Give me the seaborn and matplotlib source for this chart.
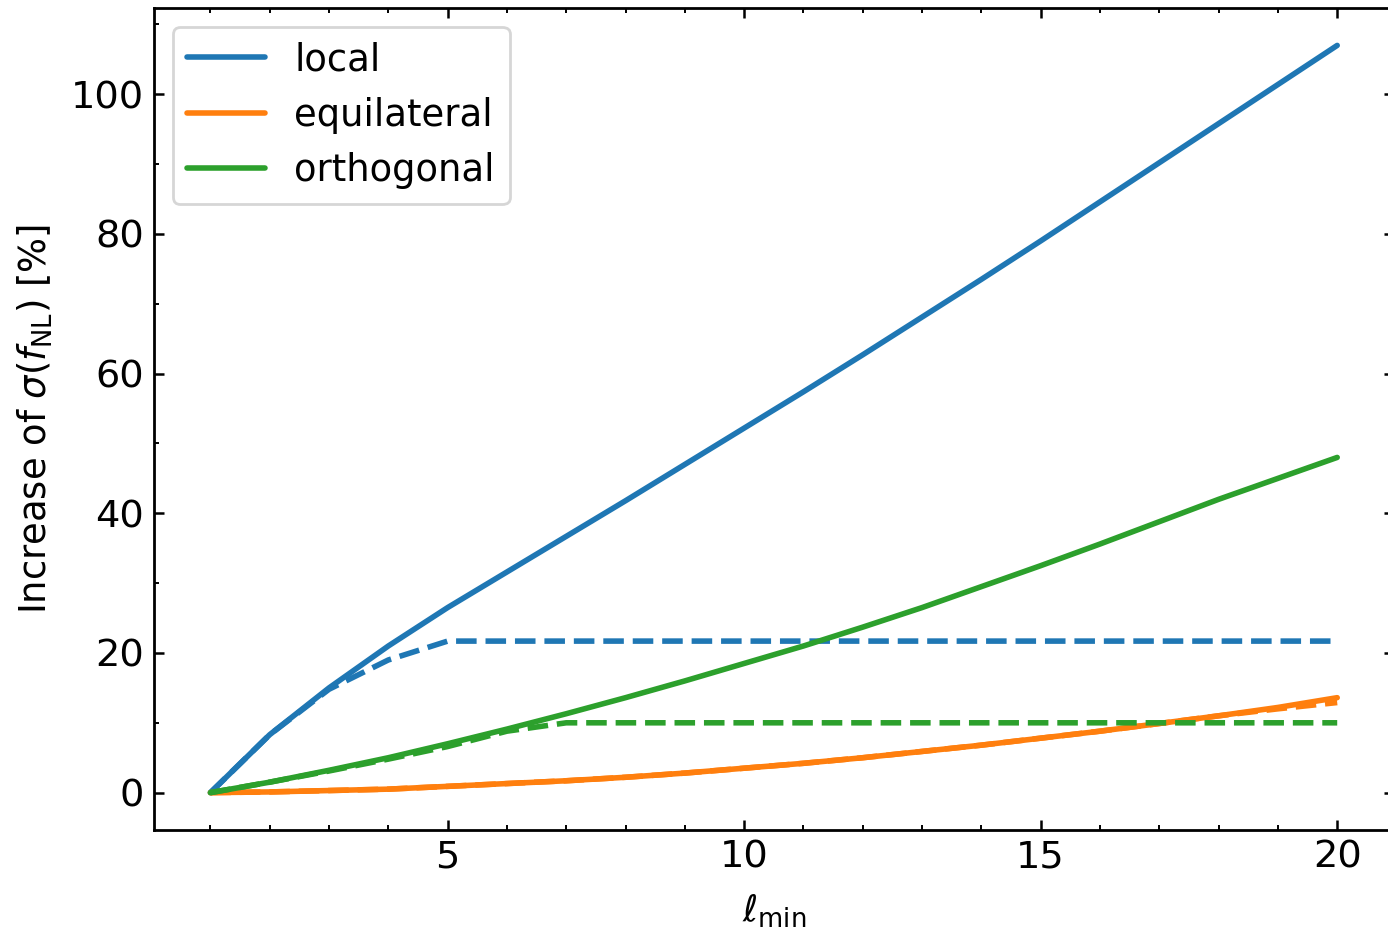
import numpy as np
import pandas as pd
import matplotlib
matplotlib.use("Agg")
import matplotlib.pyplot as plt
import seaborn as sns
from matplotlib.ticker import MultipleLocator

# valores
ell_min = list(range(1, 21))

local_full = [0, 8.3, 15.0, 21.0, 26.5, 31.6, 36.7, 41.8, 47.0, 52.2,
              57.4, 62.7, 68.1, 73.5, 79.0, 84.6, 90.2, 95.8, 101.4, 107.0]
local_dash = [0, 8.3, 14.8, 19.0, 21.7, 21.7, 21.7, 21.7, 21.7, 21.7,
              21.7, 21.7, 21.7, 21.7, 21.7, 21.7, 21.7, 21.7, 21.7, 21.7]

equil_full = [0, 0.1, 0.3, 0.5, 0.9, 1.3, 1.7, 2.2, 2.8, 3.5,
              4.2, 5.0, 5.9, 6.8, 7.8, 8.8, 9.9, 11.0, 12.2, 13.6]
equil_dash = [0, 0.1, 0.3, 0.5, 0.9, 1.3, 1.7, 2.2, 2.8, 3.5,
              4.2, 5.0, 5.9, 6.8, 7.8, 8.8, 9.9, 11.0, 12.0, 12.9]

ortho_full = [0, 1.5, 3.2, 5.0, 7.0, 9.1, 11.3, 13.6, 16.0, 18.5,
              21.0, 23.7, 26.5, 29.5, 32.5, 35.6, 38.8, 42.0, 45.0, 48.0]
ortho_dash = [0, 1.5, 3.1, 4.8, 6.6, 8.8, 10.0, 10.0, 10.0, 10.0,
              10.0, 10.0, 10.0, 10.0, 10.0, 10.0, 10.0, 10.0, 10.0, 10.0]

series = [
    ("local", local_full, local_dash),
    ("equilateral", equil_full, equil_dash),
    ("orthogonal", ortho_full, ortho_dash),
]

sns.set_style("ticks")
plt.rcParams["font.family"] = ["DejaVu Sans"]
plt.rcParams["font.size"] = 13.3
plt.rcParams["mathtext.fontset"] = "dejavusans"
for key in ["text.color", "axes.labelcolor", "xtick.color", "ytick.color"]:
    plt.rcParams[key] = "black"

fig, ax = plt.subplots(figsize=(6.94, 4.675), dpi=200)
fig.subplots_adjust(left=0.111, right=1.004, bottom=0.1123, top=0.9914)

colors = sns.color_palette("tab10", 3)

for (name, full, dash), c in zip(series, colors):
    df = pd.DataFrame({"ell": ell_min, "full": full, "dash": dash})
    sns.lineplot(data=df, x="ell", y="full", ax=ax, color=c, lw=2.0, label=name)
    sns.lineplot(data=df, x="ell", y="dash", ax=ax, color=c, lw=2.0,
                 linestyle="--", label="_nolegend_")

ax.set_xlim(0.05, 20.95)
ax.set_ylim(-5.35, 112.35)
ax.xaxis.set_major_locator(MultipleLocator(5))
ax.xaxis.set_minor_locator(MultipleLocator(1))
ax.yaxis.set_major_locator(MultipleLocator(20))
ax.yaxis.set_minor_locator(MultipleLocator(10))
ax.tick_params(which="both", direction="in", top=True, right=True, labelsize=13.8)
ax.tick_params(which="major", length=3.6, width=0.9)
ax.tick_params(which="minor", length=1.8, width=0.7)
for s in ax.spines.values():
    s.set_linewidth(1.0)
    s.set_color("black")

ax.set_xlabel(r"$\ell_{\rm min}$", fontsize=13.3, labelpad=6)
ax.set_ylabel(r"Increase of $\sigma(f_{\rm NL})$ [%]", fontsize=13.3, labelpad=6)
ax.legend(loc="upper left", fontsize=13.3, frameon=True, handlelength=2.1)

fig.savefig("out.png", dpi=200)
